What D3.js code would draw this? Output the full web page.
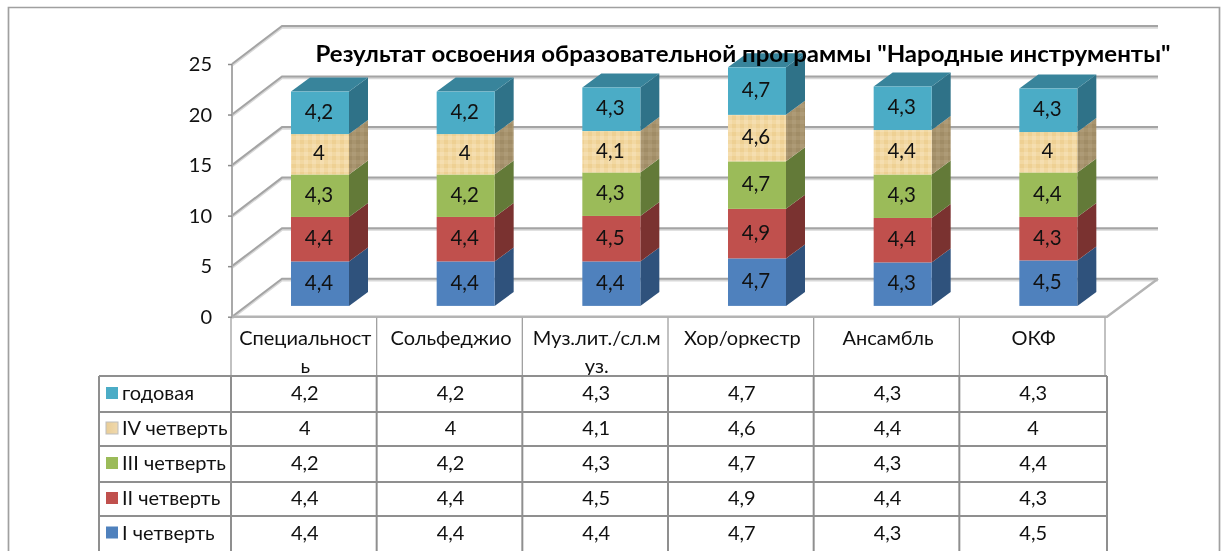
<!DOCTYPE html>
<html><head><meta charset="utf-8">
<script src="https://cdn.jsdelivr.net/npm/d3@7"></script>
<style>html,body{margin:0;padding:0;background:#fff}svg{display:block;filter:blur(0.55px)}text{font-family:Lato,"Open Sans",sans-serif;fill:#111}</style>
</head><body><svg id="c" width="1221" height="551"></svg>
<script>
const titleText = 'Результат освоения образовательной программы "Народные инструменты"';
const categories = ["Специальность","Сольфеджио","Муз.лит./сл.муз.","Хор/оркестр","Ансамбль","ОКФ"];
const categoryLines = [["Специальност","ь"],["Сольфеджио"],["Муз.лит./сл.м","уз."],["Хор/оркестр"],["Ансамбль"],["ОКФ"]];
const seriesNames = ["I четверть","II четверть","III четверть","IV четверть","годовая"];
const q1 = [4.4,4.4,4.4,4.7,4.3,4.5];
const q2 = [4.4,4.4,4.5,4.9,4.4,4.3];
const q3 = [4.2,4.2,4.3,4.7,4.3,4.4];
const q3BarLabels = [4.3,4.2,4.3,4.7,4.3,4.4];
const q4 = [4,4,4.1,4.6,4.4,4];
const year = [4.2,4.2,4.3,4.7,4.3,4.3];
const yTicks = [0,5,10,15,20,25];
const fronts = ["#4f81bd","#c0504d","#9bbb59","url(#tan)","#4bacc6"];
const sides = ["#2f527c","#7a3230","#637a38","url(#tanSide)","#2f7288"];
const topColor = "#38849b";

const svg = d3.select("#c");
const fmt = v => String(v).replace(".", ",");
const barValues = [q1,q2,q3,q4,year];
const barLabels = [q1,q2,q3BarLabels,q4,year];
const tableValues = [year,q4,q3,q2,q1];
const tableNames = seriesNames.slice().reverse();
const legendColors = fronts.slice().reverse();

// layout
const y = d3.scaleLinear().domain([0,25]).range([316.7,64]);
const x = d3.scaleBand().domain(categories).range([231,1105]);
const dxWall = 50, dyWall = 38, backRight = 1158;
const barOffset = 60, barW = 58, barBase = 10.8, dxBar = 19, dyBar = 14;
const rowEdges = [376,412,446,482,516,551];

// texture
const defs = svg.append("defs");
function weave(id, base, light, dark){
  const p = defs.append("pattern").attr("id",id).attr("width",8).attr("height",8).attr("patternUnits","userSpaceOnUse");
  p.append("rect").attr("width",8).attr("height",8).attr("fill",base);
  p.append("rect").attr("width",4).attr("height",4).attr("fill",light);
  p.append("rect").attr("x",4).attr("y",4).attr("width",4).attr("height",4).attr("fill",dark);
}
weave("tan","#f2d8a2","#f5deb0","#eed093");
weave("tanSide","#a8946e","#ae9b77","#a08c66");
const legPat = defs.append("linearGradient").attr("id","tanLegend");
legPat.append("stop").attr("offset",0).attr("stop-color","#e9cd96");
legPat.append("stop").attr("offset",1).attr("stop-color","#f0d9ae");

// outer frame (open at the bottom)
svg.append("path").attr("d","M8.5,551V7.5H1219.5V551").attr("fill","none").attr("stroke","#a0a0a0").attr("stroke-width",1.7);

// walls and gridlines
const grid = svg.append("g").attr("fill","none");
const gridPath = t => `M${x.range()[0]+1},${y(t)}L${x.range()[0]+1+dxWall},${y(t)-dyWall}H${backRight}`;
grid.selectAll("path.s").data(yTicks).join("path").attr("class","s").attr("d",gridPath).attr("transform","translate(0,1.6)").attr("stroke","#d8d8d8").attr("stroke-width",2.2);
grid.selectAll("path.m").data(yTicks).join("path").attr("class","m").attr("d",gridPath).attr("stroke","#a4a4a4").attr("stroke-width",2);
// floor edges
grid.append("path").attr("d",`M232,${y(0)}H1107L${backRight},${y(0)-dyWall}`).attr("stroke","#b4b4b4").attr("stroke-width",2.4);
grid.append("path").attr("d",`M232,${y(25)}V${y(0)}`).attr("stroke","#a9a9a9").attr("stroke-width",2);

// y axis labels with ticks
const axis = svg.append("g").attr("transform","translate(232,0)")
  .call(d3.axisLeft(y).tickValues(yTicks).tickSize(4).tickPadding(16));
axis.select(".domain").remove();
axis.selectAll("line").attr("stroke","#8c8c8c").attr("stroke-width",1.5);
axis.selectAll("text").attr("font-size",20).attr("dy","0.34em").style("fill","#111");

// stacked bars
const stackData = d3.stack().keys(d3.range(seriesNames.length)).value((d,k)=>barValues[k][d])(d3.range(categories.length));
const barsG = svg.append("g");
stackData.forEach((layer,k)=>{
  layer.forEach((seg,i)=>{
    const x0 = x(categories[i])+barOffset, x1 = x0+barW;
    const yb = y(seg[0])-barBase, yt = y(seg[1])-barBase;
    barsG.append("path").attr("d",`M${x1},${yb}L${x1+dxBar},${yb-dyBar}V${yt-dyBar}L${x1},${yt}Z`).attr("fill",sides[k]);
    if(k===stackData.length-1) barsG.append("path").attr("d",`M${x0},${yt}L${x0+dxBar},${yt-dyBar}H${x1+dxBar}L${x1},${yt}Z`).attr("fill",topColor);
    barsG.append("rect").attr("x",x0).attr("y",yt).attr("width",barW).attr("height",yb-yt).attr("fill",fronts[k]);
    barsG.append("text").attr("x",x0+barW/2-1).attr("y",(yb+yt)/2-1).attr("dy","0.35em").attr("text-anchor","middle").attr("font-size",20.5).text(fmt(barLabels[k][i]));
  });
});

// title
svg.append("text").attr("x",743).attr("y",62).attr("text-anchor","middle").attr("font-size",23).attr("font-weight",700)
  .attr("textLength",855).attr("lengthAdjust","spacingAndGlyphs").style("fill","#000").text(titleText);

// data table
const table = svg.append("g");
const lineCol = "#8f8f8f";
// header cells
x.domain().forEach(c=>{
  table.append("line").attr("x1",x(c)+x.bandwidth()).attr("x2",x(c)+x.bandwidth()).attr("y1",y(0)+1).attr("y2",376).attr("stroke","#a0a0a0").attr("stroke-width",1.3);
});
table.append("line").attr("x1",231).attr("x2",231).attr("y1",y(0)+1).attr("y2",376).attr("stroke","#a0a0a0").attr("stroke-width",1.3);
categoryLines.forEach((ls,i)=>{
  ls.forEach((l,j)=>{
    table.append("text").attr("x",x(categories[i])+x.bandwidth()/2+1.5).attr("y",338+j*28).attr("dy","0.35em").attr("text-anchor","middle").attr("font-size",20).text(l);
  });
});
// body grid
rowEdges.slice(0,-1).forEach(r=>table.append("line").attr("x1",99).attr("x2",1107).attr("y1",r).attr("y2",r).attr("stroke",lineCol).attr("stroke-width",2));
[99,...categories.map(c=>x(c)),1107].forEach(v=>table.append("line").attr("x1",v).attr("x2",v).attr("y1",376).attr("y2",551).attr("stroke",lineCol).attr("stroke-width",2));
tableNames.forEach((n,r)=>{
  const cy = (rowEdges[r]+rowEdges[r+1])/2;
  const isTan = legendColors[r]==="url(#tan)";
  table.append("rect").attr("x",106).attr("y",cy-7).attr("width",12).attr("height",12)
    .attr("fill",isTan?"url(#tanLegend)":legendColors[r]).attr("stroke",isTan?"#bdbdbd":"none");
  table.append("text").attr("x",122).attr("y",cy).attr("dy","0.3em").attr("font-size",20).text(n);
  tableValues[r].forEach((v,i)=>{
    table.append("text").attr("x",x(categories[i])+x.bandwidth()/2+1).attr("y",cy).attr("dy","0.3em").attr("text-anchor","middle").attr("font-size",20).text(fmt(v));
  });
});
</script></body></html>
